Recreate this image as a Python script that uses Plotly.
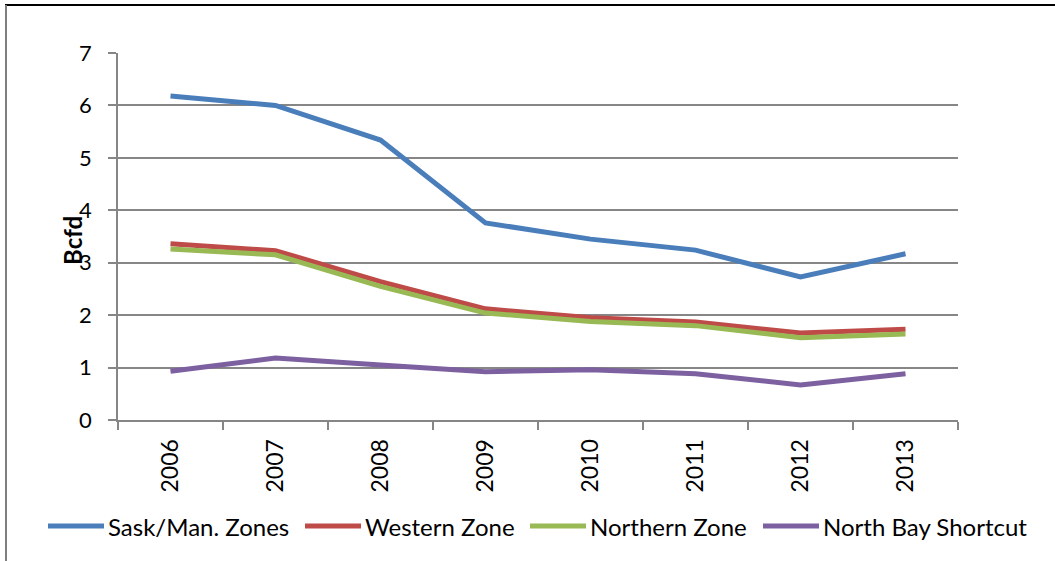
import plotly.graph_objects as go

# Data
years = ['2006', '2007', '2008', '2009', '2010', '2011', '2012', '2013']
sask_man = [6.18, 6.00, 5.34, 3.76, 3.45, 3.24, 2.73, 3.17]
western = [3.36, 3.23, 2.64, 2.12, 1.95, 1.87, 1.66, 1.73]
northern = [3.26, 3.15, 2.55, 2.04, 1.88, 1.80, 1.57, 1.64]
north_bay = [0.93, 1.18, 1.05, 0.92, 0.96, 0.88, 0.67, 0.88]

series_names = ['Sask/Man. Zones', 'Western Zone', 'Northern Zone', 'North Bay Shortcut']
series_values = [sask_man, western, northern, north_bay]
series_colors = ['#4A7EBB', '#BE4B48', '#98B954', '#7D60A0']

font_family = 'Lato'
grid_color = '#868686'
line_width = 5

# plot area in pixels (used to place legend / border in paper coords)
plot_left, plot_right, plot_top, plot_bottom = 118, 958, 53, 420


def px_x(px):
    return (px - plot_left) / (plot_right - plot_left)


def px_y(py):
    return (plot_bottom - py) / (plot_bottom - plot_top)


fig = go.Figure()
for name, vals, col in zip(series_names, series_values, series_colors):
    fig.add_trace(go.Scatter(
        x=years,
        y=vals,
        mode='lines',
        name=name,
        line=dict(color=col, width=line_width)))

fig.update_layout(
    width=1055,
    height=561,
    margin=dict(l=plot_left, r=1055 - plot_right, t=plot_top, b=561 - plot_bottom),
    paper_bgcolor='white',
    plot_bgcolor='white',
    font=dict(family=font_family, color='black'),
    showlegend=False,
    xaxis=dict(
        type='category',
        range=[-0.5, 7.5],
        showgrid=False,
        showline=True,
        linecolor=grid_color,
        linewidth=1.8,
        ticks='outside',
        tickson='boundaries',
        ticklen=8,
        tickcolor=grid_color,
        tickwidth=1.8,
        tickangle=-90,
        ticklabelstandoff=8,
        tickfont=dict(size=23, family=font_family)),
    yaxis=dict(
        range=[0, 7],
        dtick=1,
        showgrid=True,
        gridcolor=grid_color,
        gridwidth=1.8,
        showline=True,
        linecolor=grid_color,
        linewidth=1.8,
        ticks='outside',
        ticklen=8,
        tickcolor=grid_color,
        tickwidth=1.8,
        zeroline=False,
        ticklabelstandoff=12,
        tickfont=dict(size=22, family=font_family)),
)

# y axis title placed like the original
fig.add_annotation(
    text='<b>Bcfd</b>',
    xref='paper', yref='paper',
    x=px_x(72), y=px_y(241),
    xanchor='center', yanchor='middle',
    textangle=-90,
    showarrow=False,
    font=dict(size=24, family=font_family, color='black'))

# legend drawn like the Excel one: long line sample followed by the name
legend_line_x = [48, 305, 530, 763]
legend_y = 526
for name, col, lx in zip(series_names, series_colors, legend_line_x):
    fig.add_shape(type='line', xref='paper', yref='paper',
                  x0=px_x(lx), x1=px_x(lx + 56), y0=px_y(legend_y), y1=px_y(legend_y),
                  line=dict(color=col, width=line_width))
    fig.add_annotation(
        text=name,
        xref='paper', yref='paper',
        x=px_x(lx + 58), y=px_y(legend_y),
        xanchor='left', yanchor='middle',
        showarrow=False,
        font=dict(size=24, family=font_family, color='black'))

# chart border: dark top edge, grey left edge
fig.add_shape(type='line', xref='paper', yref='paper',
              x0=px_x(5), x1=px_x(1060), y0=px_y(5), y1=px_y(5),
              line=dict(color='black', width=2))
fig.add_shape(type='line', xref='paper', yref='paper',
              x0=px_x(6), x1=px_x(6), y0=px_y(5), y1=px_y(570),
              line=dict(color='#7F7F7F', width=2))

fig.write_html("out.html", config={'displayModeBar': False},
               post_script="document.body.style.margin='0';")
